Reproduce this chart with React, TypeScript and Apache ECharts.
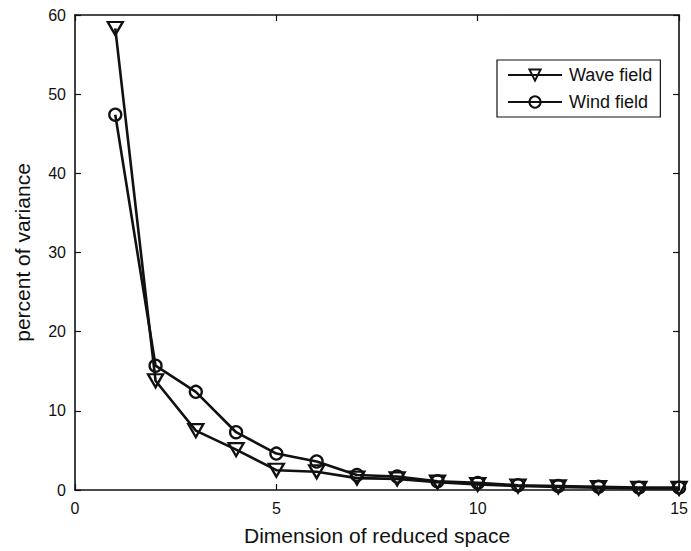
import React, { useEffect, useRef } from "react";
import * as echarts from "echarts";

const dims = [1, 2, 3, 4, 5, 6, 7, 8, 9, 10, 11, 12, 13, 14, 15];
const waveField = [58.3, 13.8, 7.5, 5.1, 2.5, 2.3, 1.5, 1.4, 1.0, 0.7, 0.5, 0.4, 0.3, 0.2, 0.2];
const windField = [47.4, 15.7, 12.4, 7.3, 4.6, 3.6, 1.9, 1.7, 1.1, 0.9, 0.6, 0.5, 0.4, 0.3, 0.3];
const seriesNames = ["Wave field", "Wind field"];

const FONT = "Liberation Sans, Arial, Helvetica, sans-serif";

export default function App() {
  const ref = useRef<HTMLDivElement>(null);
  useEffect(() => {
    if (!ref.current) return;
    const chart = echarts.init(ref.current, undefined, { renderer: "svg" });
    const axisLine = { show: true, onZero: false, lineStyle: { color: "#111", width: 1.6 } };
    const axisTick = { show: true, inside: true, length: 6, lineStyle: { color: "#111", width: 1.2 } };
    chart.setOption({
      animation: false,
      backgroundColor: "#fff",
      textStyle: { fontFamily: FONT },
      grid: { left: 75, right: 9, top: 15, bottom: 55, containLabel: false },
      legend: {
        orient: "vertical",
        left: 497,
        top: 60,
        width: 163,
        padding: [6, 8, 6, 10],
        itemWidth: 54,
        itemHeight: 14,
        itemGap: 9,
        borderColor: "#111",
        borderWidth: 1.2,
        backgroundColor: "#fff",
        textStyle: { fontFamily: FONT, fontSize: 18, color: "#111", padding: [0, 0, 0, 2] },
        data: seriesNames,
      },
      xAxis: [
        {
          type: "value",
          min: 0,
          max: 15,
          interval: 5,
          name: "Dimension of reduced space",
          nameLocation: "middle",
          nameGap: 35,
          nameTextStyle: { fontFamily: FONT, fontSize: 21, color: "#111" },
          axisLine,
          axisTick,
          splitLine: { show: false },
          axisLabel: { fontFamily: FONT, fontSize: 16, color: "#111", margin: 10 },
        },
        {
          type: "value",
          position: "top",
          min: 0,
          max: 15,
          interval: 5,
          axisLine,
          axisTick,
          splitLine: { show: false },
          axisLabel: { show: false },
        },
      ],
      yAxis: [
        {
          type: "value",
          min: 0,
          max: 60,
          interval: 10,
          name: "percent of variance",
          nameLocation: "middle",
          nameGap: 42,
          nameTextStyle: { fontFamily: FONT, fontSize: 21, color: "#111" },
          axisLine,
          axisTick,
          splitLine: { show: false },
          axisLabel: { fontFamily: FONT, fontSize: 16, color: "#111", margin: 9 },
        },
        {
          type: "value",
          position: "right",
          min: 0,
          max: 60,
          interval: 10,
          axisLine,
          axisTick,
          splitLine: { show: false },
          axisLabel: { show: false },
        },
      ],
      series: [
        {
          name: seriesNames[0],
          type: "line",
          data: dims.map((d, i) => [d, waveField[i]]),
          symbol: "triangle",
          symbolRotate: 180,
          symbolSize: [15, 13],
          showAllSymbol: true,
          lineStyle: { color: "#111", width: 2.6 },
          itemStyle: { color: "rgba(0,0,0,0)", borderColor: "#111", borderWidth: 2.3 },
          emphasis: { disabled: true },
        },
        {
          name: seriesNames[1],
          type: "line",
          data: dims.map((d, i) => [d, windField[i]]),
          symbol: "circle",
          symbolSize: 12,
          showAllSymbol: true,
          lineStyle: { color: "#111", width: 2.6 },
          itemStyle: { color: "rgba(0,0,0,0)", borderColor: "#111", borderWidth: 2.3 },
          emphasis: { disabled: true },
        },
      ],
    });
    return () => chart.dispose();
  }, []);
  return (
    <div
      ref={ref}
      style={{ position: "fixed", left: 0, top: 0, width: 691, height: 551, background: "#fff" }}
    />
  );
}
